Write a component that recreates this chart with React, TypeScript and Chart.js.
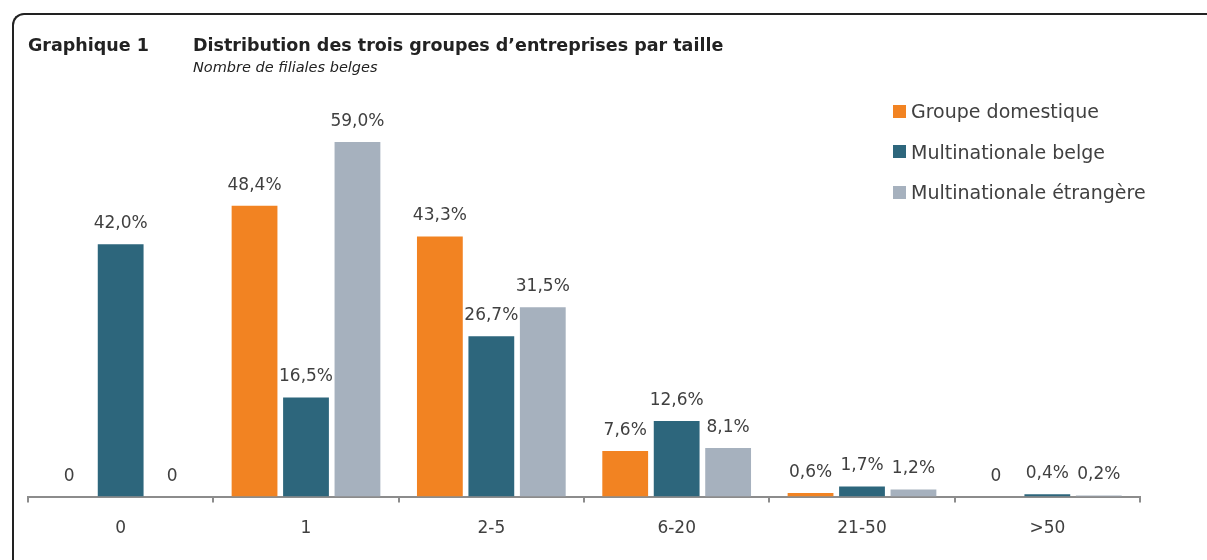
import React, { useEffect, useRef } from "react";
import { Chart, registerables } from "chart.js";

Chart.register(...registerables);

const categories = ["0", "1", "2-5", "6-20", "21-50", ">50"];
const seriesNames = ["Groupe domestique", "Multinationale belge", "Multinationale étrangère"];
const domestique = [0, 48.4, 43.3, 7.6, 0.6, 0];
const belge = [42.0, 16.5, 26.7, 12.6, 1.7, 0.4];
const etrangere = [0, 59.0, 31.5, 8.1, 1.2, 0.2];
const colors = ["#F28322", "#2D667C", "#A6B1BE"];

const FONT = "'DejaVu Sans', sans-serif";
const TEXT = "#404040";

function fmt(v: number) {
  return v === 0 ? "0" : v.toFixed(1).replace(".", ",") + "%";
}

const labelPlugin = {
  id: "barLabels",
  afterDatasetsDraw(chart: any) {
    const ctx = chart.ctx;
    ctx.save();
    ctx.font = `17px ${FONT}`;
    ctx.fillStyle = TEXT;
    ctx.textAlign = "center";
    ctx.textBaseline = "bottom";
    chart.data.datasets.forEach((ds: any, di: number) => {
      const meta = chart.getDatasetMeta(di);
      meta.data.forEach((bar: any, i: number) => {
        ctx.fillText(fmt(ds.data[i]), bar.x, bar.y - 12);
      });
    });
    ctx.restore();
  },
};

export default function App() {
  const ref = useRef<HTMLCanvasElement | null>(null);
  useEffect(() => {
    if (!ref.current) return;
    const chart = new Chart(ref.current, {
      type: "bar",
      data: {
        labels: categories,
        datasets: [domestique, belge, etrangere].map((d, i) => ({
          label: seriesNames[i],
          data: d,
          backgroundColor: colors[i],
          borderWidth: 0,
          categoryPercentage: 0.833,
          barPercentage: 0.89,
        })),
      },
      options: {
        animation: false,
        responsive: false,
        maintainAspectRatio: false,
        layout: { padding: { left: 28, right: 67, top: 76, bottom: 5 } },
        plugins: { legend: { display: false }, tooltip: { enabled: false } },
        scales: {
          y: { display: false, min: 0, max: 70 },
          x: {
            grid: {
              offset: true,
              drawOnChartArea: false,
              drawTicks: true,
              tickLength: 6,
              color: "#8c8c8c",
              lineWidth: 2,
            },
            border: { color: "#8c8c8c", width: 2 },
            ticks: { font: { family: FONT, size: 17 }, color: TEXT, padding: 16 },
          },
        },
      },
      plugins: [labelPlugin],
    });
    return () => chart.destroy();
  }, []);

  return (
    <div style={{ position: "absolute", left: 0, top: 0, width: 1207, height: 560, background: "#fff", overflow: "hidden", fontFamily: FONT }}>
      <div
        style={{
          position: "absolute",
          left: 12,
          top: 13,
          width: 1195,
          height: 547,
          boxSizing: "border-box",
          borderTop: "2px solid #222",
          borderLeft: "2px solid #222",
          borderRight: "none",
          borderBottom: "none",
          borderTopLeftRadius: 12,
        }}
      />
      <canvas ref={ref} width={1207} height={560} style={{ position: "absolute", left: 0, top: 0 }} />
      <div style={{ position: "absolute", left: 28, top: 35, fontWeight: "bold", fontSize: 17.5, color: "#222", whiteSpace: "nowrap" }}>Graphique 1</div>
      <div style={{ position: "absolute", left: 193, top: 35, fontWeight: "bold", fontSize: 17.5, color: "#222", whiteSpace: "nowrap" }}>
        Distribution des trois groupes d’entreprises par taille
      </div>
      <div style={{ position: "absolute", left: 193, top: 59, fontStyle: "italic", fontSize: 14.5, color: "#222", whiteSpace: "nowrap" }}>
        Nombre de filiales belges
      </div>
      {seriesNames.map((n, i) => (
        <div key={n} style={{ position: "absolute", left: 893, top: 100 + i * 40.5, display: "flex", alignItems: "center", fontSize: 19, color: TEXT, whiteSpace: "nowrap" }}>
          <span style={{ display: "inline-block", width: 13, height: 13, background: colors[i], marginRight: 5 }} />
          {n}
        </div>
      ))}
    </div>
  );
}
